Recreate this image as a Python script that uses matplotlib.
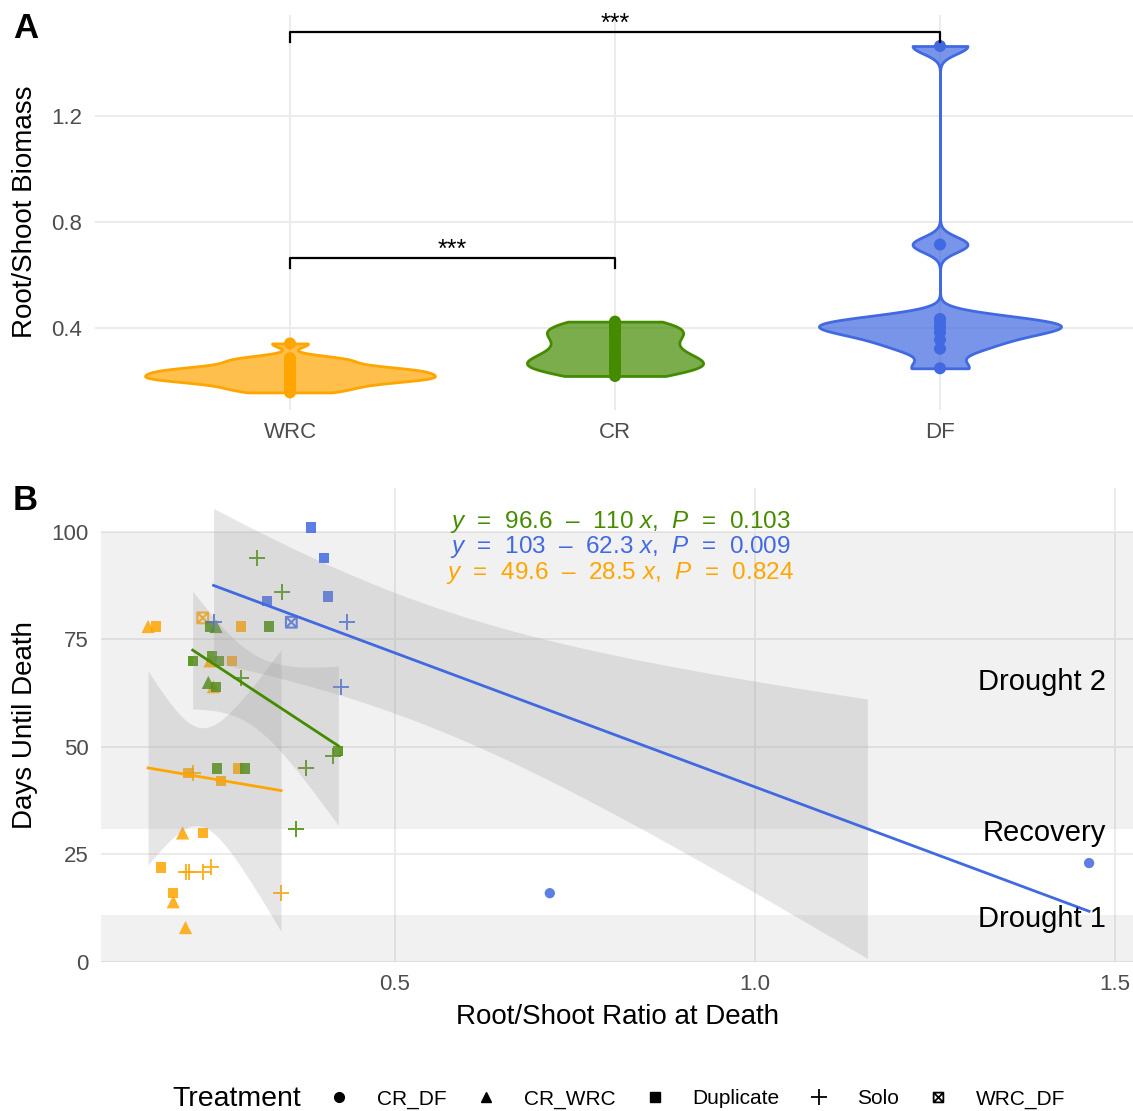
import numpy as np
import matplotlib.pyplot as plt
from matplotlib.path import Path
from matplotlib.lines import Line2D
from matplotlib.colors import to_rgba
from math import gamma, pi, sqrt

plt.rcParams['font.family'] = ['Liberation Sans', 'DejaVu Sans']
plt.rcParams['mathtext.fontset'] = 'custom'
plt.rcParams['mathtext.rm'] = 'Liberation Sans'
plt.rcParams['mathtext.it'] = 'Liberation Sans:italic'

species = ['WRC', 'CR', 'DF']
colors = {'WRC': '#FFA500', 'CR': '#458B00', 'DF': '#4169E1'}

# Root/shoot ratio at death, days until death and treatment per plant
wrc_ratio = [0.157, 0.168, 0.233, 0.286, 0.243, 0.274, 0.2477, 0.213, 0.220, 0.2824, 0.258,
             0.205, 0.233, 0.175, 0.2097, 0.2139, 0.2338, 0.2444, 0.192, 0.192, 0.209, 0.3417]
wrc_days = [78, 78, 80, 78, 70, 70, 64, 44, 44, 45, 42, 30, 30, 22, 21, 21, 21, 22, 16, 14, 8, 16]
wrc_trt = ['CR_WRC', 'Duplicate', 'WRC_DF', 'Duplicate', 'CR_WRC', 'Duplicate', 'CR_WRC',
           'Duplicate', 'Solo', 'Duplicate', 'Duplicate', 'CR_WRC', 'Duplicate', 'Duplicate',
           'Solo', 'Solo', 'Solo', 'Solo', 'Duplicate', 'CR_WRC', 'CR_WRC', 'Solo']

cr_ratio = [0.3079, 0.343, 0.243, 0.2514, 0.3254, 0.219, 0.2454, 0.256, 0.286, 0.2407, 0.2514,
            0.4213, 0.4134, 0.2532, 0.2917, 0.376, 0.3625]
cr_days = [94, 86, 78, 78, 78, 70, 71, 70, 66, 65, 64, 49, 48, 45, 45, 45, 31]
cr_trt = ['Solo', 'Solo', 'Duplicate', 'CR_WRC', 'Duplicate', 'Duplicate', 'Duplicate',
          'Duplicate', 'Solo', 'CR_WRC', 'Duplicate', 'Duplicate', 'Solo', 'Duplicate',
          'Duplicate', 'Solo', 'Solo']

df_ratio = [0.248, 0.322, 0.356, 0.383, 0.401, 0.407, 0.425, 0.434, 0.715, 1.464]
df_days = [79, 84, 79, 101, 94, 85, 64, 79, 16, 23]
df_trt = ['Solo', 'Duplicate', 'WRC_DF', 'Duplicate', 'Duplicate', 'Duplicate', 'Solo', 'Solo',
          'CR_DF', 'CR_DF']

# Root/shoot biomass per species (panel A)
wrc_biomass = wrc_ratio
cr_biomass = [0.219, 0.235, 0.245, 0.250, 0.255, 0.262, 0.270, 0.280, 0.290, 0.300,
              0.315, 0.330, 0.345, 0.360, 0.375, 0.385, 0.395, 0.405, 0.415, 0.424]
df_biomass = df_ratio

# fitted lines: intercept, slope, P value
fit_coef = {'CR': (96.6, -110, '0.103'), 'DF': (103, -62.3, '0.009'), 'WRC': (49.6, -28.5, '0.824')}
eq_order = ['CR', 'DF', 'WRC']
eq_y = [102.3, 96.4, 90.5]

stage_names = ['Drought 1', 'Recovery', 'Drought 2']
stage_text_y = [10, 30, 65]
stage_shaded = [(0, 11), (31, 100)]

treatments = ['CR_DF', 'CR_WRC', 'Duplicate', 'Solo', 'WRC_DF']

sq_cross = Path([(-0.5, -0.5), (0.5, -0.5), (0.5, 0.5), (-0.5, 0.5), (-0.5, -0.5),
                 (-0.5, -0.5), (0.5, 0.5), (-0.5, 0.5), (0.5, -0.5)],
                [Path.MOVETO, Path.LINETO, Path.LINETO, Path.LINETO, Path.CLOSEPOLY,
                 Path.MOVETO, Path.LINETO, Path.MOVETO, Path.LINETO])
trt_marker = {'CR_DF': ('o', 55), 'CR_WRC': ('^', 90), 'Duplicate': ('s', 55),
              'Solo': ('+', 140), 'WRC_DF': (sq_cross, 60)}

data = {'WRC': (wrc_ratio, wrc_days, wrc_trt),
        'CR': (cr_ratio, cr_days, cr_trt),
        'DF': (df_ratio, df_days, df_trt)}
biomass = {'WRC': wrc_biomass, 'CR': cr_biomass, 'DF': df_biomass}


def nrd0(kde):
    x = kde.dataset.ravel()
    sd = x.std(ddof=1)
    q75, q25 = np.percentile(x, [75, 25])
    bw = 0.9 * min(sd, (q75 - q25) / 1.34) * len(x) ** -0.2
    return bw / sd


def t_quantile(p, df):
    grid = np.linspace(0, 12, 24001)
    c = gamma((df + 1) / 2) / (sqrt(df * pi) * gamma(df / 2))
    pdf = c * (1 + grid ** 2 / df) ** (-(df + 1) / 2)
    cdf = 0.5 + np.concatenate([[0], np.cumsum((pdf[1:] + pdf[:-1]) / 2 * np.diff(grid))])
    return np.interp(p, cdf, grid)


W, H = 1133, 1111
fig = plt.figure(figsize=(W / 100, H / 100), dpi=100)
tick_color = '#4D4D4D'
grid_color = '#EBEBEB'

# ---- panel A: violins ----
axA = fig.add_axes([95 / W, 1 - 410 / H, (W - 95) / W, (410 - 15) / H])
axA.set_axisbelow(True)
pos = [1, 2, 3]
vp = axA.violinplot([biomass[s] for s in species], positions=pos, widths=[0.892, 0.542, 0.745],
                    showextrema=False, points=512, bw_method=nrd0)
for body, s in zip(vp['bodies'], species):
    body.set_alpha(None)
    body.set_facecolor(to_rgba(colors[s], 0.7))
    body.set_edgecolor(colors[s])
    body.set_linewidth(2)
    body.set_zorder(2)
for p, s in zip(pos, species):
    vals = biomass[s]
    axA.scatter(np.full(len(vals), p), vals, s=75, color=colors[s], edgecolors='none', zorder=3)

for (x0, x1), yb in [((1, 2), 0.664), ((1, 3), 1.517)]:
    axA.plot([x0, x0, x1, x1], [yb - 0.038, yb, yb, yb - 0.038], color='black', lw=1.6, zorder=4)
    axA.text((x0 + x1) / 2, yb + 0.004, '***', ha='center', va='baseline', fontsize=18)

axA.set_xlim(0.4, 1 + (W - 290) / 325)
axA.set_ylim(0.0906, 1.581)
axA.set_xticks(pos)
axA.set_xticklabels(species)
axA.set_yticks([0.4, 0.8, 1.2])
axA.grid(True, color=grid_color, lw=1.4)
axA.tick_params(length=0, labelsize=16, labelcolor=tick_color, pad=9)
for sp in axA.spines.values():
    sp.set_visible(False)

# ---- panel B: days until death vs ratio ----
axB = fig.add_axes([101 / W, 1 - 962 / H, (W - 101) / W, (962 - 488) / H])
axB.set_axisbelow(True)
y_lo, y_hi = 0, 110.2
for lo, hi in stage_shaded:
    axB.axhspan(lo, hi, color='#808080', alpha=0.11, lw=0, zorder=1)

for s in species:
    xr, yd, tr = (np.array(v) for v in data[s])
    for t in treatments:
        m = tr == t
        if not m.any():
            continue
        mk, size = trt_marker[t]
        if t == 'WRC_DF':
            axB.scatter(xr[m], yd[m], marker=mk, s=size, facecolors='none',
                        edgecolors=colors[s], linewidths=1.5, alpha=0.85, zorder=2)
        elif t == 'Solo':
            axB.scatter(xr[m], yd[m], marker=mk, s=size, color=colors[s],
                        linewidths=1.4, alpha=0.85, zorder=2)
        else:
            axB.scatter(xr[m], yd[m], marker=mk, s=size, color=colors[s],
                        edgecolors='none', alpha=0.85, zorder=2)

# regression lines with 95% confidence ribbons
for s in species:
    x = np.array(data[s][0])
    y = np.array(data[s][1])
    a, b, _ = fit_coef[s]
    n = len(x)
    xs = np.linspace(x.min(), x.max(), 80)
    fit = a + b * xs
    resid = y - (a + b * x)
    sres = sqrt(np.sum(resid ** 2) / (n - 2))
    se = sres * np.sqrt(1 / n + (xs - x.mean()) ** 2 / np.sum((x - x.mean()) ** 2))
    tq = t_quantile(0.975, n - 2)
    lo, hi = fit - tq * se, fit + tq * se
    keep = (lo >= y_lo) & (hi <= y_hi)
    axB.fill_between(xs[keep], lo[keep], hi[keep], color='#999999', alpha=0.24, lw=0, zorder=3)
    axB.plot(xs, fit, color=colors[s], lw=2, zorder=4)

for s, yy in zip(eq_order, eq_y):
    a, b, p = fit_coef[s]
    sign = '–' if b < 0 else '+'
    label = f'$y$  =  {a:g}  {sign}  {abs(b):g} $x$,  $P$  =  {p}'
    axB.text(0.8125, yy, label, color=colors[s], fontsize=17.5, ha='center', va='center', zorder=5)

for name, yy in zip(stage_names, stage_text_y):
    axB.text(1.4875, yy, name, fontsize=21, ha='right', va='center', zorder=5)

axB.set_xlim((101 - 35) / 720, (W - 35) / 720)
axB.set_ylim(y_lo, y_hi)
axB.set_xticks([0.5, 1.0, 1.5])
axB.set_xticklabels(['0.5', '1.0', '1.5'])
axB.set_yticks([0, 25, 50, 75, 100])
axB.grid(True, color=grid_color, lw=1.4)
axB.tick_params(length=0, labelsize=16, labelcolor=tick_color, pad=9)
for sp in axB.spines.values():
    sp.set_visible(False)

# titles and panel letters
fig.text(25 / W, 1 - 212 / H, 'Root/Shoot Biomass', rotation=90, fontsize=20, ha='center', va='center')
fig.text(25 / W, 1 - 725 / H, 'Days Until Death', rotation=90, fontsize=20, ha='center', va='center')
fig.text(617 / W, 1 - 1017 / H, 'Root/Shoot Ratio at Death', fontsize=20, ha='center', va='center')
fig.text(13 / W, 1 - 28 / H, 'A', fontsize=25, weight='bold', ha='left', va='center')
fig.text(13 / W, 1 - 500 / H, 'B', fontsize=25, weight='bold', ha='left', va='center')

# treatment legend
handles = []
for t in treatments:
    mk, _ = trt_marker[t]
    if t == 'WRC_DF':
        handles.append(Line2D([], [], marker=mk, linestyle='None', markersize=7,
                              markerfacecolor='none', markeredgecolor='black', markeredgewidth=1.3))
    elif t == 'Solo':
        handles.append(Line2D([], [], marker=mk, linestyle='None', markersize=12,
                              color='black', markeredgewidth=1.3))
    else:
        handles.append(Line2D([], [], marker=mk, linestyle='None', markersize=7, color='black'))
fig.text(172 / W, 1 - 1099 / H, 'Treatment', fontsize=20.5, ha='left', va='center')
fig.legend(handles, treatments, ncol=5, loc='center', bbox_to_anchor=(697 / W, 1 - 1099 / H),
           frameon=False, fontsize=15, handlelength=1.0, handletextpad=1.3, columnspacing=1.4,
           borderpad=0, borderaxespad=0)

fig.savefig('out.png', dpi=100)
